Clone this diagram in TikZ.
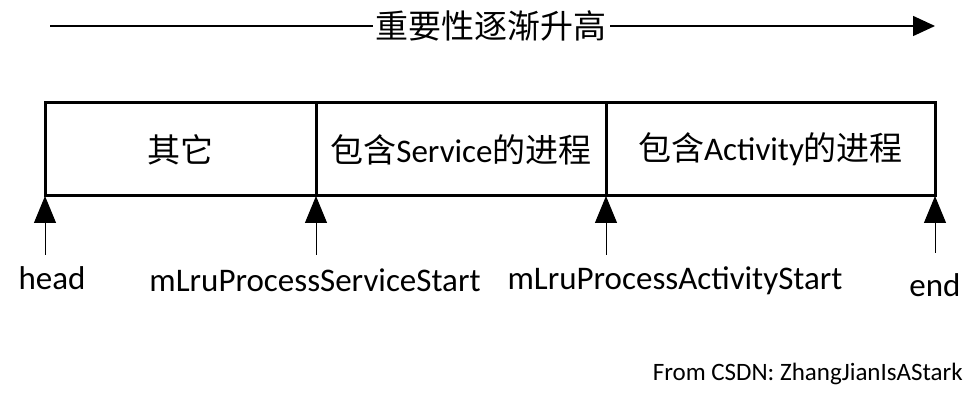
\documentclass[tikz,border=0pt]{standalone}
\usepackage{fontspec}
\setmainfont{Carlito}
\newfontfamily\cjk{Noto Sans CJK SC}
\usetikzlibrary{arrows.meta}

\begin{document}
\begin{tikzpicture}[
            x = 1pt, y = -1pt, % pixel grid of the picture
            > = {Triangle[width=22pt,length=27pt]}, % arrow head style
            seg/.style = {draw=black, line width=3pt, minimum height=93pt, outer sep=0pt,
                          inner sep=0pt, anchor=west, font=\fontsize{33}{38}\selectfont},
            lbl/.style = {inner sep=0pt, anchor=base, font=\fontsize{33}{38}\selectfont},
            ptr/.style = {->, line width=1pt}
        ]
\useasboundingbox (0,0) rectangle (978,403);

% importance axis
\coordinate (t0) at (50,26);
\coordinate (t1) at (935,26);
\draw[-{Triangle[width=20pt,length=22pt]}, line width=1.5pt] (t0) -- (t1);
\node[fill=white, inner xsep=3pt, inner ysep=0pt, font=\fontsize{33}{38}\selectfont\cjk] (title) at (491,26) {重要性逐渐升高};

% the list
\node[seg, minimum width=271pt] (other) at (45,149.5) {\cjk 其它};
\node[seg, minimum width=290pt] (service) at (other.east) {{\cjk 包含}Service{\cjk 的进程}};
\node[seg, minimum width=329pt] (activity) at (service.east) {{\cjk 包含}Activity{\cjk 的进程}};

% index labels
\node[lbl] (head) at (52,290) {head};
\node[lbl] (sstart) at (315,292) {mLruProcessServiceStart};
\node[lbl] (astart) at (675,290) {mLruProcessActivityStart};
\node[lbl] (end) at (935,297) {end};

\coordinate (p0) at (45,255);
\coordinate (p1) at (316,255);
\coordinate (p2) at (606,255);
\coordinate (p3) at (935,253);

\draw[ptr] (p0) -- (other.south west);
\draw[ptr] (p1) -- (service.south west);
\draw[ptr] (p2) -- (activity.south west);
\draw[ptr] (p3) -- (activity.south east);

\node[inner sep=0pt, anchor=base east, font=\fontsize{25}{29}\selectfont] (src) at (963,381) {From CSDN: ZhangJianIsAStark};
\end{tikzpicture}
\end{document}
